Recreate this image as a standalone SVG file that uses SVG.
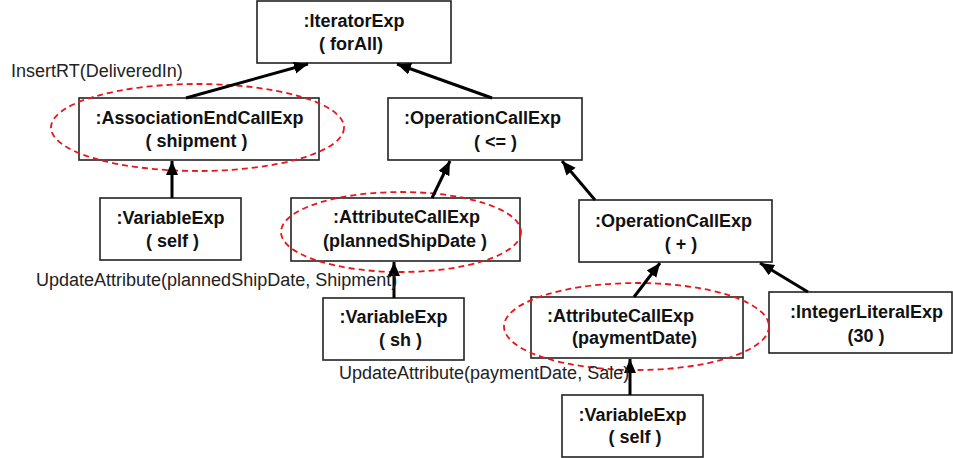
<svg xmlns="http://www.w3.org/2000/svg" width="953" height="458" viewBox="0 0 953 458">
<style>
.box{fill:#fff;stroke:#222;stroke-width:1.6}
.t{font-family:"Liberation Sans",Arial,sans-serif;font-size:18px;font-weight:bold;fill:#111;text-anchor:middle}
.lbl{font-family:"Liberation Sans",Arial,sans-serif;font-size:18px;fill:#222}
.ell{fill:none;stroke:#e8161b;stroke-width:1.8;stroke-dasharray:6 4}
.con{stroke:#000;stroke-width:3;fill:none;marker-end:url(#ah)}
</style>
<defs>
<marker id="ah" markerUnits="userSpaceOnUse" markerWidth="16" markerHeight="14" refX="14" refY="6" orient="auto">
<path d="M0,0 L14,6 L0,12 Z" fill="#000"/>
</marker>
</defs>
<rect width="953" height="458" fill="#fff"/>
<g id="iteratorExp">
<rect class="box" x="257" y="1" width="194" height="62"/>
<text class="t" x="354" y="27">:IteratorExp</text>
<text class="t" x="351" y="50">( forAll)</text>
</g>
<g id="assocEnd">
<rect class="box" x="79" y="98" width="240" height="62"/>
<text class="t" x="199.5" y="124">:AssociationEndCallExp</text>
<text class="t" x="196.5" y="147">( shipment )</text>
</g>
<g id="opCallLe">
<rect class="box" x="388" y="98" width="194" height="62"/>
<text class="t" x="482.5" y="124">:OperationCallExp</text>
<text class="t" x="495.5" y="148">( &lt;= )</text>
</g>
<g id="varSelf1">
<rect class="box" x="100" y="198" width="141" height="62"/>
<text class="t" x="170.5" y="224">:VariableExp</text>
<text class="t" x="172.5" y="247">( self )</text>
</g>
<g id="attrPlanned">
<rect class="box" x="291" y="198" width="229" height="63"/>
<text class="t" x="406.5" y="223">:AttributeCallExp</text>
<text class="t" x="405" y="247">(plannedShipDate )</text>
</g>
<g id="opCallPlus">
<rect class="box" x="579" y="200" width="193" height="62"/>
<text class="t" x="673.5" y="227">:OperationCallExp</text>
<text class="t" x="681" y="250">( + )</text>
</g>
<g id="varSh">
<rect class="box" x="323" y="298" width="141" height="62"/>
<text class="t" x="393.5" y="323">:VariableExp</text>
<text class="t" x="400.5" y="346">( sh )</text>
</g>
<g id="attrPayment">
<rect class="box" x="531" y="297" width="212" height="61"/>
<text class="t" x="620.5" y="322">:AttributeCallExp</text>
<text class="t" x="634.5" y="344">(paymentDate)</text>
</g>
<g id="intLit">
<rect class="box" x="769" y="292" width="183" height="61"/>
<text class="t" x="866.5" y="318">:IntegerLiteralExp</text>
<text class="t" x="866" y="342">(30 )</text>
</g>
<g id="varSelf2">
<rect class="box" x="562" y="395" width="141" height="62"/>
<text class="t" x="632.5" y="421">:VariableExp</text>
<text class="t" x="635" y="443">( self )</text>
</g>
<g id="highlights">
<ellipse class="ell" cx="197.5" cy="127.5" rx="146.5" ry="43.5"/>
<ellipse class="ell" cx="401" cy="232" rx="120" ry="40"/>
<ellipse class="ell" cx="636.5" cy="326.5" rx="132.5" ry="43.5"/>
</g>
<g id="connectors">
<line class="con" x1="186" y1="98" x2="308" y2="64"/>
<line class="con" x1="492" y1="98" x2="397" y2="64"/>
<line class="con" x1="172" y1="198" x2="172" y2="161"/>
<line class="con" x1="432" y1="198" x2="450" y2="161"/>
<line class="con" x1="595" y1="200" x2="562" y2="161"/>
<line class="con" x1="394" y1="298" x2="394" y2="262"/>
<line class="con" x1="634" y1="297" x2="660" y2="263"/>
<line class="con" x1="808" y1="292" x2="760" y2="263"/>
<line class="con" x1="630" y1="395" x2="630" y2="359"/>
</g>
<g id="labels">
<text class="lbl" x="11" y="77">InsertRT(DeliveredIn)</text>
<text class="lbl" x="36" y="286">UpdateAttribute(plannedShipDate, Shipment)</text>
<text class="lbl" x="339" y="379">UpdateAttribute(paymentDate, Sale)</text>
</g>
</svg>
